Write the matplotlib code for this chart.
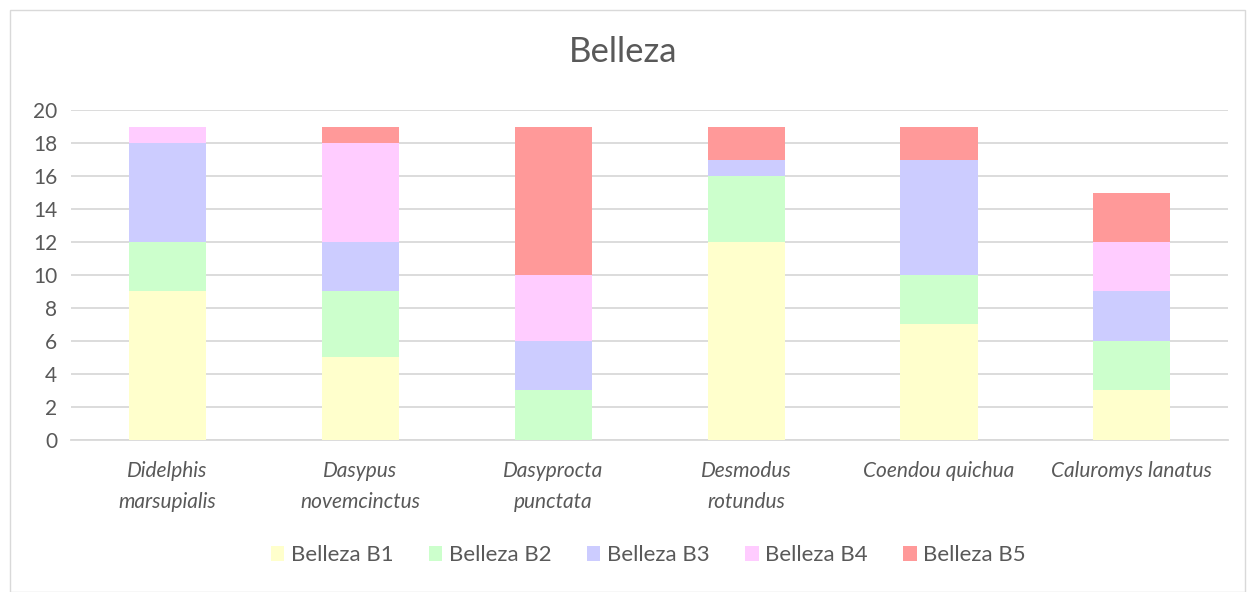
import matplotlib.pyplot as plt
from matplotlib.patches import Rectangle

species = ["Didelphis\nmarsupialis", "Dasypus\nnovemcinctus", "Dasyprocta\npunctata",
           "Desmodus\nrotundus", "Coendou quichua", "Caluromys lanatus"]
series = ["Belleza B1", "Belleza B2", "Belleza B3", "Belleza B4", "Belleza B5"]
b1 = [9, 5, 0, 12, 7, 3]
b2 = [3, 4, 3, 4, 3, 3]
b3 = [6, 3, 3, 1, 7, 3]
b4 = [1, 6, 4, 0, 0, 3]
b5 = [0, 1, 9, 2, 2, 3]
colors = ["#FFFFCC", "#CCFFCC", "#CCCCFF", "#FFCCFF", "#FF9999"]

plt.rcParams['font.family'] = ['Lato', 'DejaVu Sans']
txt = "#595959"

fig = plt.figure(figsize=(12.47, 5.92), dpi=100)
ax = fig.add_axes([0.057, 0.257, 0.928, 0.557])

x = range(len(species))
bottom = [0] * len(species)
for name, vals, c in zip(series, [b1, b2, b3, b4, b5], colors):
    ax.bar(x, vals, width=0.4, bottom=bottom, color=c, label=name, zorder=3)
    bottom = [b + v for b, v in zip(bottom, vals)]

ax.set_ylim(0, 20)
ax.set_xlim(-0.5, len(species) - 0.5)
ax.set_yticks(range(0, 21, 2))
ax.yaxis.grid(True, color="#D9D9D9", linewidth=1.3, zorder=0)
ax.set_xticks(list(x))
ax.set_xticklabels(species, fontstyle="italic", fontsize=15, color=txt, linespacing=1.7)
ax.tick_params(axis="y", labelsize=15, labelcolor=txt, length=0, pad=10)
ax.tick_params(axis="x", length=0, pad=15)
for s in ["top", "right", "left"]:
    ax.spines[s].set_visible(False)
ax.spines["bottom"].set_color("#D9D9D9")
ax.spines["bottom"].set_linewidth(1.3)

fig.suptitle("Belleza", y=0.94, fontsize=25, color=txt)
fig.legend(loc="center", bbox_to_anchor=(0.52, 0.062), ncol=5, frameon=False,
           fontsize=16, labelcolor=txt, handlelength=0.6, handleheight=0.7,
           handletextpad=0.3, columnspacing=1.6)

fig.patches.append(Rectangle((0.008, 0.0), 0.99, 0.983, transform=fig.transFigure,
                             fill=False, edgecolor="#D9D9D9", linewidth=1))

fig.savefig("out.png", dpi=100)
